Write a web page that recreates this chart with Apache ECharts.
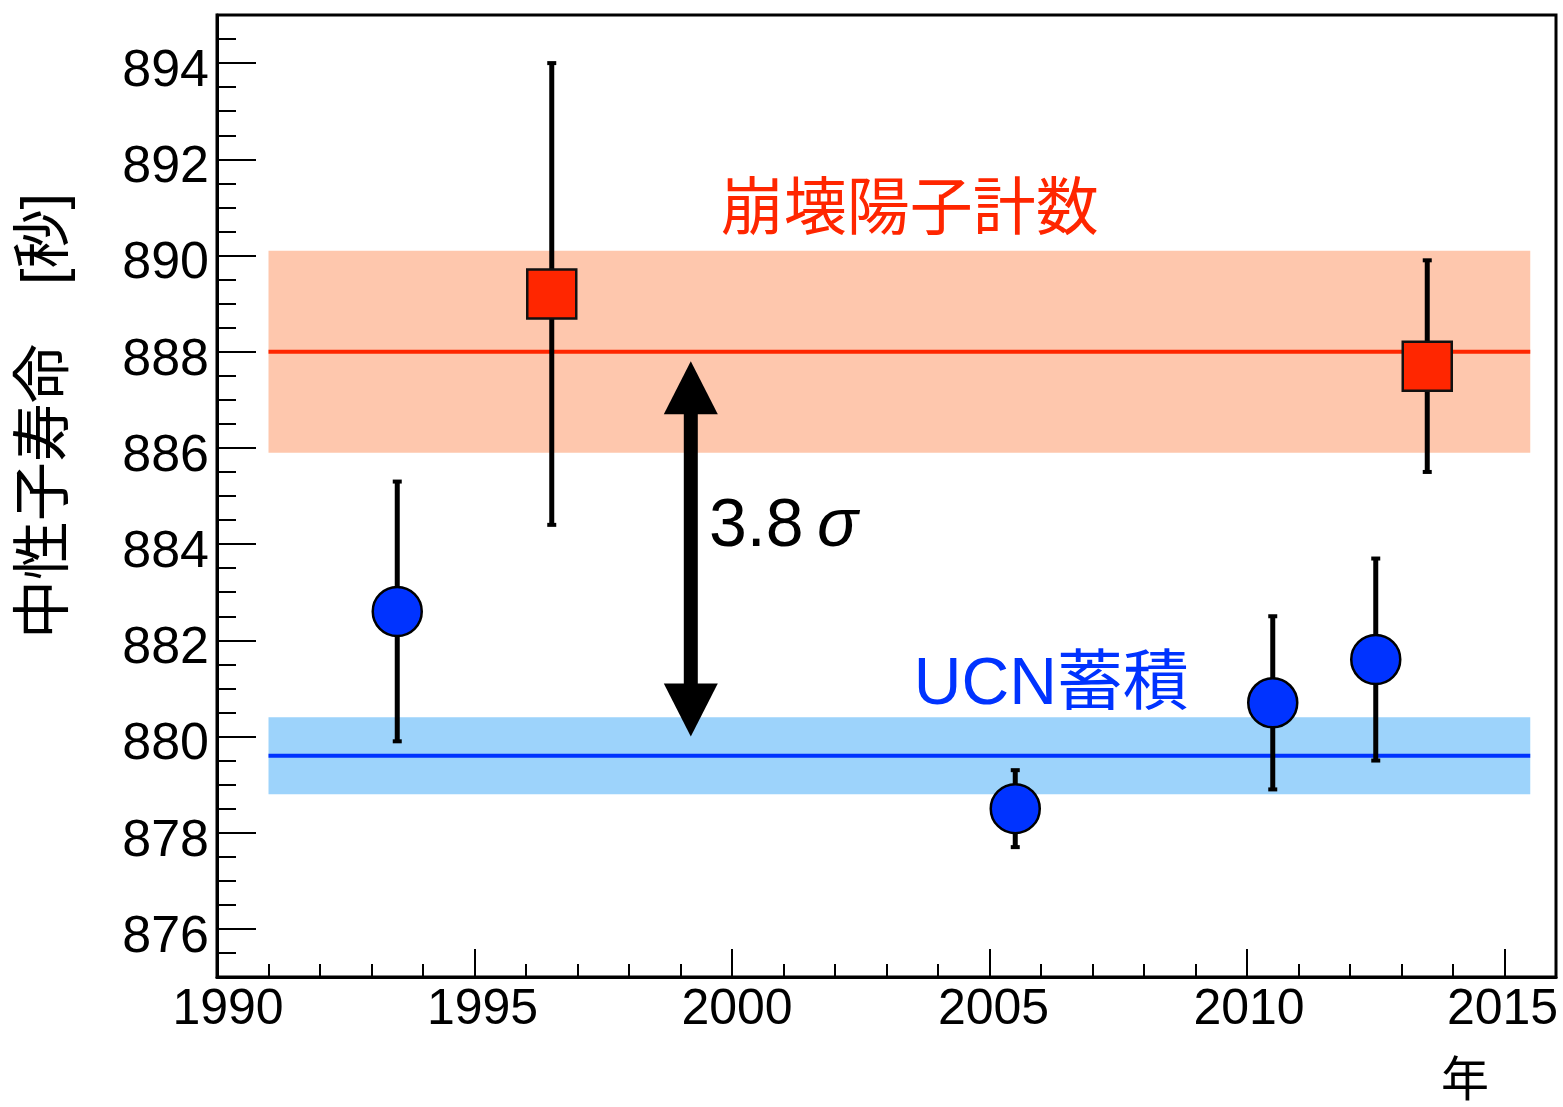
<!DOCTYPE html>
<html>
<head>
<meta charset="utf-8">
<script src="https://cdn.jsdelivr.net/npm/echarts@6/dist/echarts.min.js"></script>
<style>
  html, body { margin: 0; padding: 0; background: #fff; }
  #lifetimeChart { width: 1563px; height: 1107px; }
</style>
</head>
<body>
<div id="lifetimeChart"></div>
<script>
  // neutron lifetime measurements [s]
  var ucnYears = [1993.5, 2005.5, 2010.5, 2012.5];
  var ucnLifetime = [882.6, 878.5, 880.7, 881.6];
  var ucnError = [2.7, 0.8, 1.8, 2.1];

  var beamYears = [1996.5, 2013.5];
  var beamLifetime = [889.2, 887.7];
  var beamError = [4.8, 2.2];

  // averages: beam (decay protons) and UCN storage
  var bandNames = ['崩壊陽子計数', 'UCN蓄積'];
  var bandMean = [888.0, 879.6];
  var bandError = [2.1, 0.8];
  var bandYears = [1991, 2015.5];

  var xTicks = [1990, 1995, 2000, 2005, 2010, 2015];
  var yTicks = [876, 878, 880, 882, 884, 886, 888, 890, 892, 894];

  var RED = '#ff2600';
  var BLUE = '#0033ff';
  var bandFill = ['#fec7ad', '#9dd3fb'];
  var bandLine = [RED, BLUE];
  var latin = "'Liberation Sans', 'Noto Sans CJK JP', sans-serif";

  // year labels sit a little right of their ticks in the original
  var xLabelRich = {
    s0: { padding: [0, 0, 0, 22] },
    s1: { padding: [0, 0, 0, 16] },
    s2: { padding: [0, 0, 0, 10] },
    s3: { padding: [0, 0, 0, 8] },
    s4: { padding: [0, 0, 0, 4] },
    s5: { padding: [0, 4, 0, 0] }
  };

  function errorData(xs, ys, es) {
    return xs.map(function (x, i) { return [x, ys[i] - es[i], ys[i] + es[i]]; });
  }

  function renderErrorBar(params, api) {
    var top = api.coord([api.value(0), api.value(2)]);
    var bot = api.coord([api.value(0), api.value(1)]);
    var capW = 9, capH = 4;
    return {
      type: 'group',
      children: [
        { type: 'line', shape: { x1: top[0], y1: top[1], x2: bot[0], y2: bot[1] },
          style: { stroke: '#000', lineWidth: 5 } },
        { type: 'rect', shape: { x: top[0] - capW / 2, y: top[1] - capH / 2, width: capW, height: capH },
          style: { fill: '#000' } },
        { type: 'rect', shape: { x: bot[0] - capW / 2, y: bot[1] - capH / 2, width: capW, height: capH },
          style: { fill: '#000' } }
      ]
    };
  }

  function renderBand(params, api) {
    var i = params.dataIndex;
    var p0 = api.coord([api.value(0), api.value(3)]);
    var p1 = api.coord([api.value(1), api.value(2)]);
    var m0 = api.coord([api.value(0), api.value(4)]);
    var m1 = api.coord([api.value(1), api.value(4)]);
    return {
      type: 'group',
      children: [
        { type: 'rect', shape: { x: p0[0], y: p0[1], width: p1[0] - p0[0], height: p1[1] - p0[1] },
          style: { fill: bandFill[i] } },
        { type: 'line', shape: { x1: m0[0], y1: m0[1], x2: m1[0], y2: m1[1] },
          style: { stroke: bandLine[i], lineWidth: 4 } }
      ]
    };
  }

  function renderArrow(params, api) {
    var top = api.coord([api.value(0), api.value(2)]);
    var bot = api.coord([api.value(0), api.value(1)]);
    var headW = 54, headH = 53, shaftW = 14;
    return {
      type: 'group',
      children: [
        { type: 'rect', shape: { x: top[0] - shaftW / 2, y: top[1] + headH - 1, width: shaftW, height: bot[1] - top[1] - 2 * headH + 2 },
          style: { fill: '#000' } },
        { type: 'polygon', shape: { points: [[top[0], top[1]], [top[0] - headW / 2, top[1] + headH], [top[0] + headW / 2, top[1] + headH]] },
          style: { fill: '#000' } },
        { type: 'polygon', shape: { points: [[bot[0], bot[1]], [bot[0] - headW / 2, bot[1] - headH], [bot[0] + headW / 2, bot[1] - headH]] },
          style: { fill: '#000' } }
      ]
    };
  }

  // text anchors in data coordinates
  var notes = [
    { text: bandNames[0], pos: [2003.45, 890.92], color: RED, size: 63, rich: null },
    { text: bandNames[1], pos: [2006.2, 881.05], color: BLUE, size: 66, rich: null },
    { text: '{n|3.8}{s|\u2009σ}', pos: [2001.0, 884.35], color: '#000', size: 68, rich: {
        n: { fontSize: 68, fontFamily: latin, fill: '#000' },
        s: { fontSize: 68, fontFamily: latin, fontStyle: 'italic', fill: '#000' } } }
  ];

  function renderNote(params, api) {
    var n = notes[params.dataIndex];
    var p = api.coord([api.value(0), api.value(1)]);
    var style = { text: n.text, fill: n.color, fontSize: n.size, fontFamily: latin,
                  align: 'center', verticalAlign: 'middle' };
    if (n.rich) style.rich = n.rich;
    return { type: 'text', x: p[0], y: p[1], style: style };
  }

  var chart = echarts.init(document.getElementById('lifetimeChart'), null, { renderer: 'canvas' });

  var option = {
    animation: false,
    backgroundColor: '#fff',
    grid: {
      left: 217, top: 15, width: 1339, height: 962,
      show: true, borderColor: '#000', borderWidth: 3, backgroundColor: 'transparent',
      containLabel: false, outerBoundsMode: 'none'
    },
    xAxis: [
      {
        type: 'value', min: 1990, max: 2016, interval: 1, position: 'bottom',
        axisLine: { show: true, lineStyle: { color: '#000', width: 3 } },
        axisTick: { show: true, inside: true, length: 13, lineStyle: { color: '#000', width: 2 } },
        axisLabel: { show: false },
        splitLine: { show: false }
      },
      {
        type: 'value', min: 1990, max: 2016, interval: 5, position: 'bottom',
        axisLine: { show: false },
        axisTick: { show: true, inside: true, length: 28, customValues: xTicks,
                    lineStyle: { color: '#000', width: 2 } },
        axisLabel: { show: true, customValues: xTicks, margin: 8, color: '#000',
                     fontSize: 50, fontFamily: latin, rich: xLabelRich,
                     formatter: function (v) {
                       return '{s' + xTicks.indexOf(v) + '|' + v + '}';
                     } },
        splitLine: { show: false }
      }
    ],
    yAxis: [
      {
        type: 'value', min: 875, max: 895, interval: 0.5, position: 'left',
        axisLine: { show: true, lineStyle: { color: '#000', width: 3 } },
        axisTick: { show: true, inside: true, length: 19, lineStyle: { color: '#000', width: 2 } },
        axisLabel: { show: false },
        splitLine: { show: false }
      },
      {
        type: 'value', min: 875, max: 895, interval: 1, position: 'left',
        axisLine: { show: false },
        axisTick: { show: true, inside: true, length: 39, customValues: yTicks,
                    lineStyle: { color: '#000', width: 2 } },
        axisLabel: { show: true, customValues: yTicks, margin: 8, color: '#000',
                     fontSize: 52, fontFamily: latin, verticalAlign: 'top', lineHeight: 17,
                     formatter: function (v) { return String(v); } },
        splitLine: { show: false }
      }
    ],
    graphic: [
      { type: 'text', x: 47, y: 416, rotation: Math.PI / 2,
        style: { text: '中性子寿命　[秒]', fill: '#000', fontSize: 59, fontFamily: latin,
                 align: 'center', verticalAlign: 'middle' } },
      { type: 'text', x: 1465, y: 1083,
        style: { text: '年', fill: '#000', fontSize: 48, fontFamily: latin,
                 align: 'center', verticalAlign: 'middle' } }
    ],
    series: [
      {
        name: 'bands', type: 'custom', z: 1, silent: true,
        renderItem: renderBand,
        encode: { x: [0, 1], y: [2, 3, 4] },
        data: bandMean.map(function (m, i) {
          return [bandYears[0], bandYears[1], m - bandError[i], m + bandError[i], m];
        })
      },
      {
        name: 'arrow', type: 'custom', z: 2, silent: true,
        renderItem: renderArrow,
        encode: { x: 0, y: [1, 2] },
        data: [[1999.2, 880.0, 887.8]]
      },
      {
        name: 'ucnErr', type: 'custom', z: 3, silent: true,
        renderItem: renderErrorBar,
        encode: { x: 0, y: [1, 2] },
        data: errorData(ucnYears, ucnLifetime, ucnError)
      },
      {
        name: 'beamErr', type: 'custom', z: 3, silent: true,
        renderItem: renderErrorBar,
        encode: { x: 0, y: [1, 2] },
        data: errorData(beamYears, beamLifetime, beamError)
      },
      {
        name: 'UCN', type: 'scatter', z: 4, symbol: 'circle', symbolSize: 49,
        itemStyle: { color: BLUE, borderColor: '#000', borderWidth: 2.5, opacity: 1 },
        data: ucnYears.map(function (x, i) { return [x, ucnLifetime[i]]; })
      },
      {
        name: 'beam', type: 'scatter', z: 4, symbol: 'rect', symbolSize: 49,
        itemStyle: { color: RED, borderColor: '#111', borderWidth: 2.5, opacity: 1 },
        data: beamYears.map(function (x, i) { return [x, beamLifetime[i]]; })
      },
      {
        name: 'notes', type: 'custom', z: 5, silent: true,
        renderItem: renderNote,
        encode: { x: 0, y: 1 },
        data: notes.map(function (n) { return n.pos; })
      }
    ]
  };

  chart.setOption(option);
</script>
</body>
</html>
